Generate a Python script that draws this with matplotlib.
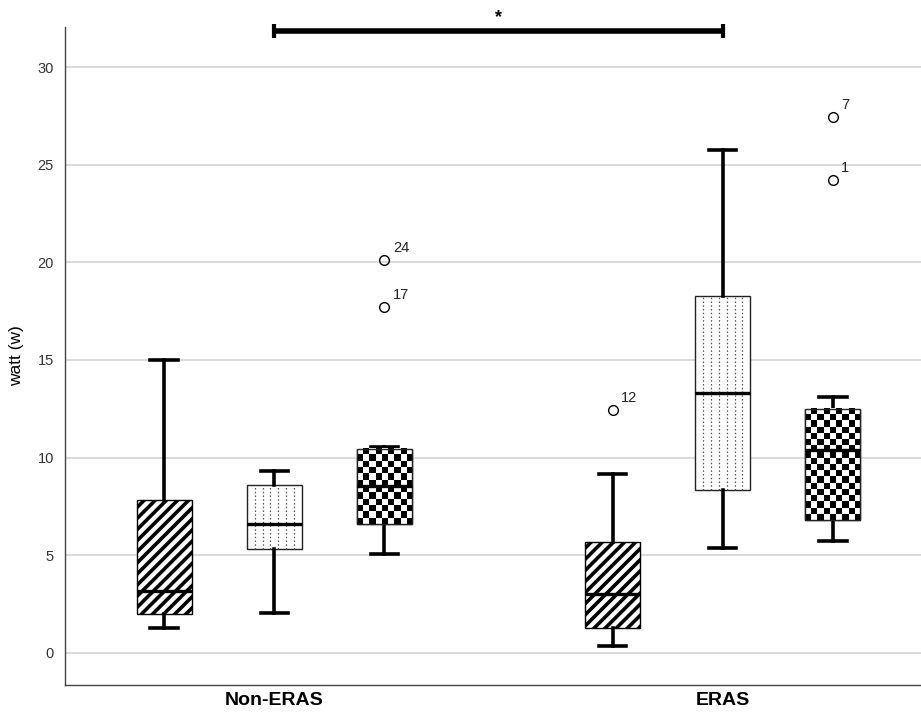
import numpy as np
import matplotlib.pyplot as plt
from matplotlib.patches import Rectangle

plt.rcParams['font.family'] = ['Liberation Sans', 'DejaVu Sans']
plt.rcParams['hatch.linewidth'] = 2.6

groups = ['Non-ERAS', 'ERAS']
patterns = ['stripe', 'dots', 'checker', 'stripe', 'dots', 'checker']

# five-number summaries
whislo = [1.25, 2.05, 5.05, 0.35, 5.35, 5.75]
q1 = [2.0, 5.3, 6.6, 1.25, 8.35, 6.78]
med = [3.15, 6.62, 8.52, 3.0, 13.3, 10.4]
q3 = [7.8, 8.58, 10.46, 5.65, 18.28, 12.48]
whishi = [15.0, 9.3, 10.53, 9.15, 25.75, 13.12]
fliers = [[], [], [20.1, 17.7], [12.44], [], [27.44, 24.2]]
flier_ids = [[], [], ['24', '17'], ['12'], [], ['7', '1']]

group_pos = [2.0, 6.07]
offsets = [-1, 0, 1]
positions = [g + o for g in group_pos for o in offsets]

stats = []
for i in range(6):
    stats.append(dict(whislo=whislo[i], q1=q1[i], med=med[i], q3=q3[i],
                      whishi=whishi[i], fliers=fliers[i]))

fig = plt.figure(figsize=(9.21, 7.22), dpi=100)
ax = fig.add_axes([65 / 921, 1 - 685 / 722, 1 - 65 / 921, (685 - 27) / 722])

bp = ax.bxp(stats, positions=positions, widths=0.5, patch_artist=True,
            showfliers=True, capwidths=0.25,
            boxprops=dict(linewidth=1.0, edgecolor='#222222', facecolor='white'),
            whiskerprops=dict(linewidth=2.6, color='black'),
            capprops=dict(linewidth=2.6, color='black'),
            medianprops=dict(linewidth=2.4, color='black'),
            flierprops=dict(marker='o', markersize=7, markerfacecolor='none',
                            markeredgecolor='black', markeredgewidth=1.0))

for i, box in enumerate(bp['boxes']):
    left = positions[i] - 0.25
    right = positions[i] + 0.25
    if patterns[i] == 'stripe':
        box.set_hatch('///')
        box.set_edgecolor('black')
    elif patterns[i] == 'dots':
        xs = np.linspace(left, right, 8)[1:-1]
        ax.vlines(xs, q1[i], q3[i], colors='#555555', linestyles=(0, (1.2, 1.8)),
                  linewidth=0.9, zorder=2.1)
    else:
        ny = max(2, int(round((q3[i] - q1[i]) / 0.31)))
        nx = 9
        yy, xx = np.mgrid[0:ny, 0:nx]
        board = ((xx + yy) % 2).astype(float)
        ax.imshow(board, cmap='gray', extent=(left, right, q1[i], q3[i]),
                  aspect='auto', interpolation='nearest', origin='lower', zorder=2.05)
        ax.add_patch(Rectangle((left, q1[i]), 0.5, q3[i] - q1[i], fill=False,
                               edgecolor='#222222', linewidth=1.0, zorder=2.2))
for m in bp['medians']:
    m.set_zorder(3)

for i in range(6):
    for v, lab in zip(fliers[i], flier_ids[i]):
        ax.annotate(lab, (positions[i], v), xytext=(6, 6), textcoords='offset points',
                    fontsize=10.5, color='#222222')

ax.set_xlim(0.1, 7.87)
ax.set_ylim(-1.65, 32.05)
ax.set_yticks([0, 5, 10, 15, 20, 25, 30])
ax.tick_params(axis='y', length=0, labelsize=10.5, labelcolor='#333333', pad=8)
ax.set_xticks(group_pos)
ax.set_xticklabels(groups, fontsize=14, fontweight='bold')
ax.tick_params(axis='x', length=0, pad=5)
ax.set_ylabel('watt (w)', fontsize=12.5, labelpad=10)
ax.yaxis.grid(True, color='#d4d4d4', linewidth=1.2)
ax.set_axisbelow(True)
for s in ['top', 'right']:
    ax.spines[s].set_visible(False)
for s in ['left', 'bottom']:
    ax.spines[s].set_color('#444444')
    ax.spines[s].set_linewidth(1.0)

# significance bar between the middle boxes
x1 = positions[1]
x2 = positions[4]
ybar = 31.85
ax.plot([x1, x2], [ybar, ybar], color='black', linewidth=4, clip_on=False,
        solid_capstyle='butt', zorder=5)
ax.plot([x1, x1], [ybar - 0.35, ybar + 0.35], color='black', linewidth=3,
        clip_on=False, solid_capstyle='butt', zorder=5)
ax.plot([x2, x2], [ybar - 0.35, ybar + 0.35], color='black', linewidth=3,
        clip_on=False, solid_capstyle='butt', zorder=5)
ax.text((x1 + x2) / 2, ybar + 0.25, '*', ha='center', va='bottom', fontsize=13,
        fontweight='bold')

fig.savefig('out.png', dpi=100)
